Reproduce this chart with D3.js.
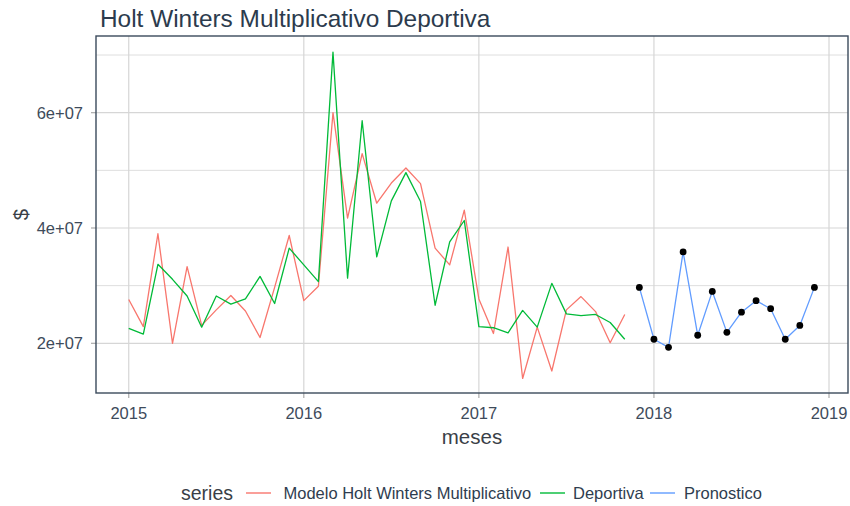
<!DOCTYPE html>
<html><head><meta charset="utf-8">
<script src="https://cdn.jsdelivr.net/npm/d3@7"></script>
<style>body{margin:0;background:#fff}svg{display:block;font-family:"Liberation Sans",Arial,sans-serif}</style>
</head><body><svg id="c" width="850" height="506"></svg>
<script>
// ---- data (monthly, starting Jan 2015) ----
const startYear = 2015;
const modelo = [2.76e7,2.29e7,3.90e7,2.00e7,3.33e7,2.31e7,2.58e7,2.83e7,2.56e7,2.10e7,2.97e7,3.87e7,
                2.74e7,2.99e7,6.00e7,4.17e7,5.29e7,4.43e7,4.78e7,5.04e7,4.77e7,3.65e7,3.36e7,4.31e7,
                2.77e7,2.17e7,3.67e7,1.39e7,2.28e7,1.52e7,2.58e7,2.81e7,2.55e7,2.01e7,2.50e7];
const deportiva = [2.26e7,2.16e7,3.37e7,3.11e7,2.82e7,2.28e7,2.82e7,2.68e7,2.77e7,3.16e7,2.69e7,3.65e7,
                   3.36e7,3.07e7,7.05e7,3.13e7,5.86e7,3.50e7,4.47e7,4.96e7,4.46e7,2.66e7,3.76e7,4.13e7,
                   2.29e7,2.27e7,2.18e7,2.57e7,2.28e7,3.04e7,2.51e7,2.48e7,2.50e7,2.36e7,2.07e7];
const pronosticoStart = 35; // Dec 2017
const pronostico = [2.97e7,2.07e7,1.93e7,3.585e7,2.14e7,2.90e7,2.19e7,2.54e7,2.74e7,2.60e7,2.07e7,2.31e7,2.97e7];
const xTicks = [2015,2016,2017,2018,2019];
const xTickLabels = ["2015","2016","2017","2018","2019"];
const yTicks = [2e7,4e7,6e7];
const yTickLabels = ["2e+07","4e+07","6e+07"];
const yMinor = [3e7,5e7,7e7];
const seriesNames = ["Modelo Holt Winters Multiplicativo","Deportiva","Pronostico"];
const seriesColors = ["#F8766D","#00BA38","#619CFF"];

const svg = d3.select("#c");
const L=96, R=848, T=36, B=393;
const x = d3.scaleLinear().domain([2014.813, 2019.1085]).range([L,R]);
const y = d3.scaleLinear().domain([1.138e7, 7.33e7]).range([B,T]);
const toPts = (arr, off) => arr.map((v,i)=>({t:startYear+(i+off)/12, v}));

// grid
const g = svg.append("g");
g.selectAll(".ymin").data(yMinor).join("line").attr("x1",L).attr("x2",R)
  .attr("y1",d=>y(d)).attr("y2",d=>y(d)).attr("stroke","#dedede").attr("stroke-width",1);
g.selectAll(".ymaj").data(yTicks).join("line").attr("x1",L).attr("x2",R)
  .attr("y1",d=>y(d)).attr("y2",d=>y(d)).attr("stroke","#d6d6d6").attr("stroke-width",1.2);
g.selectAll(".xmaj").data(xTicks).join("line").attr("y1",T).attr("y2",B)
  .attr("x1",d=>x(d)).attr("x2",d=>x(d)).attr("stroke","#d6d6d6").attr("stroke-width",1.2);

// ticks
svg.append("g").selectAll("line").data(yTicks).join("line").attr("x1",L-5).attr("x2",L)
  .attr("y1",d=>y(d)).attr("y2",d=>y(d)).attr("stroke","#aaaaaa").attr("stroke-width",1.2);
svg.append("g").selectAll("line").data(xTicks).join("line").attr("y1",B).attr("y2",B+5)
  .attr("x1",d=>x(d)).attr("x2",d=>x(d)).attr("stroke","#aaaaaa").attr("stroke-width",1.2);

// lines
const line = d3.line().x(d=>x(d.t)).y(d=>y(d.v));
const lg = svg.append("g").attr("fill","none").attr("stroke-width",1.3).attr("stroke-linejoin","round");
lg.append("path").datum(toPts(modelo,0)).attr("d",line).attr("stroke",seriesColors[0]);
lg.append("path").datum(toPts(deportiva,0)).attr("d",line).attr("stroke",seriesColors[1]);
const pp = toPts(pronostico,pronosticoStart);
lg.append("path").datum(pp).attr("d",line).attr("stroke",seriesColors[2]);
svg.append("g").selectAll("circle").data(pp).join("circle")
  .attr("cx",d=>x(d.t)).attr("cy",d=>y(d.v)).attr("r",3.4).attr("fill","#000");

// border
svg.append("rect").attr("x",L).attr("y",T).attr("width",R-L).attr("height",B-T)
  .attr("fill","none").attr("stroke","#3b4a5c").attr("stroke-width",1.4);

// tick labels
svg.append("g").selectAll("text").data(yTicks).join("text")
  .attr("x",L-13).attr("y",d=>y(d)).attr("dy","0.36em").attr("text-anchor","end")
  .attr("font-size",16.5).attr("fill","#3e4b5b").text((d,i)=>yTickLabels[i]);
svg.append("g").selectAll("text").data(xTicks).join("text")
  .attr("x",d=>x(d)).attr("y",419).attr("text-anchor","middle")
  .attr("font-size",16.5).attr("fill","#3e4b5b").text((d,i)=>xTickLabels[i]);

// titles
svg.append("text").attr("x",100).attr("y",27).attr("font-size",24.4).attr("fill","#2c3b4d")
  .text("Holt Winters Multiplicativo Deportiva");
svg.append("text").attr("x",(L+R)/2).attr("y",444).attr("text-anchor","middle")
  .attr("font-size",20.5).attr("fill","#3a3f47").text("meses");
svg.append("text").attr("transform",`translate(28,${(T+B)/2}) rotate(-90)`).attr("text-anchor","middle")
  .attr("font-size",20.5).attr("fill","#3a3f47").text("$");

// legend
const ly = 493;
const leg = svg.append("g");
leg.append("text").attr("x",181).attr("y",ly).attr("dy","0.36em").attr("font-size",19.5).attr("fill","#3a3f47").text("series");
const keyX = [246,540,650];
const labX = [283.5,573,684];
seriesNames.forEach((n,i)=>{
  leg.append("line").attr("x1",keyX[i]).attr("x2",keyX[i]+25).attr("y1",ly).attr("y2",ly)
    .attr("stroke",seriesColors[i]).attr("stroke-width",1.4);
  leg.append("text").attr("x",labX[i]).attr("y",ly).attr("dy","0.36em").attr("font-size",16.5)
    .attr("fill","#2f3d4f").text(n);
});
</script></body></html>
